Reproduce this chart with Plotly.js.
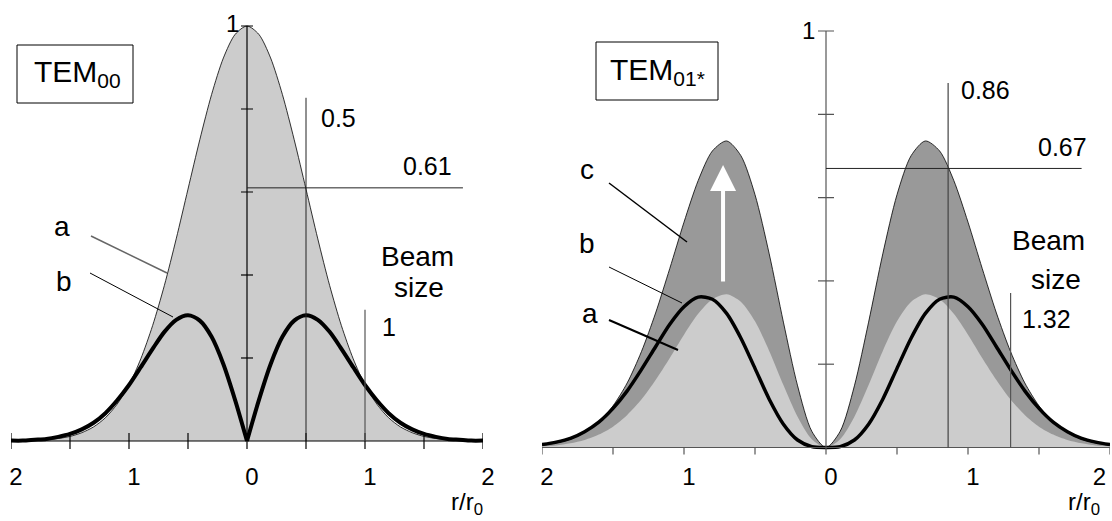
<!DOCTYPE html>
<html>
<head>
<meta charset="utf-8">
<script src="https://cdn.plot.ly/plotly-3.0.1.min.js"></script>
<style>html,body{margin:0;padding:0;background:#fff;}#chart{width:1112px;height:521px;}</style>
</head>
<body>
<div id="chart"></div>
<script>
// radial coordinate r/r0 (both panels)
const r = [-2.0,-1.9,-1.8,-1.7,-1.6,-1.5,-1.4,-1.3,-1.2,-1.1,-1.0,-0.9,-0.8,-0.7,-0.6,-0.5,-0.4,-0.3,-0.2,-0.1,0.0,
           0.1,0.2,0.3,0.4,0.5,0.6,0.7,0.8,0.9,1.0,1.1,1.2,1.3,1.4,1.5,1.6,1.7,1.8,1.9,2.0];

// TEM00 panel
const tem00_a = [0.000,0.001,0.002,0.003,0.006,0.011,0.020,0.034,0.056,0.089,0.135,0.198,0.278,0.375,0.487,0.607,0.726,0.835,0.923,0.980,1.000,
                 0.980,0.923,0.835,0.726,0.607,0.487,0.375,0.278,0.198,0.135,0.089,0.056,0.034,0.020,0.011,0.006,0.003,0.002,0.001,0.000];
const tem00_b = [0.001,0.001,0.003,0.005,0.010,0.017,0.028,0.044,0.067,0.098,0.135,0.178,0.222,0.263,0.292,0.303,0.290,0.251,0.185,0.098,0.000,
                 0.098,0.185,0.251,0.290,0.303,0.292,0.263,0.222,0.178,0.135,0.098,0.067,0.044,0.028,0.017,0.010,0.005,0.003,0.001,0.001];

// TEM01* panel
const tem01_c = [0.005,0.011,0.020,0.036,0.061,0.100,0.155,0.230,0.323,0.430,0.541,0.641,0.712,0.736,0.701,0.607,0.465,0.301,0.148,0.039,0.000,
                 0.039,0.148,0.301,0.465,0.607,0.701,0.736,0.712,0.641,0.541,0.430,0.323,0.230,0.155,0.100,0.061,0.036,0.020,0.011,0.005];
const tem01_a = [0.003,0.005,0.010,0.018,0.031,0.050,0.078,0.115,0.162,0.215,0.271,0.321,0.356,0.368,0.350,0.303,0.232,0.150,0.074,0.020,0.000,
                 0.020,0.074,0.150,0.232,0.303,0.350,0.368,0.356,0.321,0.271,0.215,0.162,0.115,0.078,0.050,0.031,0.018,0.010,0.005,0.003];
const tem01_b = [0.007,0.013,0.022,0.038,0.061,0.094,0.136,0.187,0.242,0.296,0.338,0.361,0.356,0.322,0.263,0.190,0.116,0.056,0.018,0.002,0.000,
                 0.002,0.018,0.056,0.116,0.190,0.263,0.322,0.356,0.361,0.338,0.296,0.242,0.187,0.136,0.094,0.061,0.038,0.022,0.013,0.007];

// axis ticks and labels
const xTickVals = [-2,-1,0,1,2];
const xTickVals2 = [-2,-1,0,1,1.89];   // right-most label sits inside the page edge
const xTickText = ['2','1','0','1','2'];
const xMinorTicks = [-2,-1.5,-1,-0.5,0,0.5,1,1.5,2];
const yTicks = [0.2,0.4,0.6,0.8,1.0];

// marked values
const tem00_rMark = 0.5, tem00_iMark = 0.61, tem00_beam = 1;
const tem01_rMark = 0.86, tem01_iMark = 0.67, tem01_beam = 1.30;

const W = 1112, H = 521;
const FONT = 'Liberation Sans, Arial, sans-serif';
const px = x => x / W;
const py = y => 1 - y / H;

const spl = {shape:'spline', smoothing:0.8};

const traces = [
  {x:r, y:tem00_a, xaxis:'x', yaxis:'y', type:'scatter', mode:'lines', fill:'tozeroy',
   fillcolor:'#cccccc', line:Object.assign({color:'#000', width:0.8}, spl), hoverinfo:'skip'},
  {x:r.slice(0,21), y:tem00_b.slice(0,21), xaxis:'x', yaxis:'y', type:'scatter', mode:'lines',
   line:Object.assign({color:'#000', width:4}, spl), hoverinfo:'skip'},
  {x:r.slice(20), y:tem00_b.slice(20), xaxis:'x', yaxis:'y', type:'scatter', mode:'lines',
   line:Object.assign({color:'#000', width:4}, spl), hoverinfo:'skip'},
  {x:r, y:tem01_c, xaxis:'x2', yaxis:'y2', type:'scatter', mode:'lines', fill:'tozeroy',
   fillcolor:'#999999', line:Object.assign({color:'#000', width:0.8}, spl), hoverinfo:'skip'},
  {x:r, y:tem01_a, xaxis:'x2', yaxis:'y2', type:'scatter', mode:'lines', fill:'tozeroy',
   fillcolor:'#cccccc', line:Object.assign({color:'rgba(0,0,0,0)', width:0}, spl), hoverinfo:'skip'},
  {x:r, y:tem01_b, xaxis:'x2', yaxis:'y2', type:'scatter', mode:'lines',
   line:Object.assign({color:'#000', width:3.5}, spl), hoverinfo:'skip'}
];

const shapes = [];
function dline(xa, ya, x0, y0, x1, y1, color, width) {
  shapes.push({type:'line', xref:xa, yref:ya, x0:x0, y0:y0, x1:x1, y1:y1, layer:'above',
               line:{color:color, width:width}});
}
function pline(x0, y0, x1, y1, color, width) {
  shapes.push({type:'line', xref:'paper', yref:'paper', x0:px(x0), y0:py(y0), x1:px(x1), y1:py(y1),
               layer:'above', line:{color:color, width:width}});
}
// panel axes
function axes(xa, ya, col, xtUp, xtDown, ytLen) {
  dline(xa, ya, -2, 0, 2, 0, col, 1.2);
  dline(xa, ya, 0, 0, 0, 1, col, 1.2);
  xMinorTicks.forEach(t => shapes.push({type:'line', xref:xa, yref:ya, ysizemode:'pixel', yanchor:0,
      x0:t, x1:t, y0:-xtDown, y1:xtUp, layer:'above', line:{color:col, width:1.2}}));
  yTicks.forEach(t => shapes.push({type:'line', xref:xa, yref:ya, xsizemode:'pixel', xanchor:0,
      x0:-ytLen, x1:ytLen, y0:t, y1:t, layer:'above', line:{color:col, width:1.2}}));
}
axes('x', 'y', '#000', 8, 8, 6);
axes('x2', 'y2', '#555', 0, 7, 8);

// marker lines, TEM00
dline('x', 'y', tem00_rMark, 0, tem00_rMark, 0.827, '#222', 1);
dline('x', 'y', 0, tem00_iMark, 1.83, tem00_iMark, '#222', 1);
dline('x', 'y', tem00_beam, 0, tem00_beam, 0.316, '#555', 1.2);
// marker lines, TEM01*
dline('x2', 'y2', tem01_rMark, 0, tem01_rMark, 0.875, '#444', 1.2);
dline('x2', 'y2', 0, tem01_iMark, 1.80, tem01_iMark, '#222', 1);
dline('x2', 'y2', tem01_beam, 0, tem01_beam, 0.371, '#555', 1.2);

// leader lines
pline(91, 236, 167, 273, '#666', 1.5);
pline(90, 273, 173, 317, '#000', 1);
pline(609, 183, 687, 242, '#000', 1.5);
pline(609, 267, 682, 303, '#000', 1);
pline(609, 320, 678, 350, '#000', 2);

// label boxes
shapes.push({type:'rect', xref:'paper', yref:'paper', x0:px(17), x1:px(133), y0:py(45), y1:py(103),
             line:{color:'#000', width:1}, layer:'above'});
shapes.push({type:'rect', xref:'paper', yref:'paper', x0:px(596), x1:px(718), y0:py(42), y1:py(100),
             line:{color:'#000', width:1}, layer:'above'});

const annotations = [];
function txt(x, y, text, size, xanchor) {
  annotations.push({xref:'paper', yref:'paper', x:px(x), y:py(y), text:text, showarrow:false,
    xanchor:xanchor || 'center', yanchor:'middle', font:{family:FONT, size:size, color:'#000'}});
}
// left panel text
txt(232, 24, '1', 24);
txt(77, 74, 'TEM<sub>00</sub>', 30);
txt(338, 118, '0.5', 25);
txt(427, 166, '0.61', 25);
txt(417, 256, 'Beam', 28);
txt(419, 287, 'size', 28);
txt(389, 327, '1', 25);
txt(62, 226, 'a', 28);
txt(64, 281, 'b', 28);
txt(467, 503, 'r/r<sub>0</sub>', 24);
// right panel text
txt(808, 30, '1', 24);
txt(657, 71, 'TEM<sub>01*</sub>', 30);
txt(985, 90, '0.86', 25);
txt(1062, 147, '0.67', 25);
txt(1048, 240, 'Beam', 28);
txt(1056, 279, 'size', 28);
txt(1046, 319, '1.32', 25);
txt(587, 170, 'c', 28);
txt(587, 243, 'b', 28);
txt(590, 313, 'a', 28);
txt(1084, 503, 'r/r<sub>0</sub>', 24);

// white arrow
annotations.push({xref:'x2', yref:'y2', axref:'x2', ayref:'y2', x:-0.725, y:0.678, ax:-0.725, ay:0.395,
  text:'', showarrow:true, arrowhead:2, arrowsize:1.3, arrowwidth:4, arrowcolor:'#ffffff', standoff:0});

const xax = {range:[-2,2], ticktext:xTickText, showgrid:false, zeroline:false, ticklabelshift:5,
             ticklabeloverflow:'allow', showline:false, ticks:'',
             tickfont:{family:FONT, size:24, color:'#000'}, fixedrange:true};
const yax = {showgrid:false, zeroline:false, showline:false, showticklabels:false, ticks:'', fixedrange:true};

const layout = {
  width:W, height:H, margin:{l:0, r:0, t:0, b:0},
  paper_bgcolor:'#fff', plot_bgcolor:'rgba(0,0,0,0)', showlegend:false,
  xaxis:Object.assign({}, xax, {tickvals:xTickVals, domain:[11/W, 483/W], anchor:'y'}),
  yaxis:Object.assign({}, yax, {domain:[(H-460)/H, (H-5.25)/H], range:[-0.0458, 1.05], anchor:'x'}),
  xaxis2:Object.assign({}, xax, {tickvals:xTickVals2, domain:[542/W, 1110/W], anchor:'y2'}),
  yaxis2:Object.assign({}, yax, {domain:[(H-460)/H, (H-10.18)/H], range:[-0.030, 1.05], anchor:'x2'}),
  shapes:shapes, annotations:annotations
};

Plotly.newPlot('chart', traces, layout, {staticPlot:true, displayModeBar:false});
</script>
</body>
</html>
